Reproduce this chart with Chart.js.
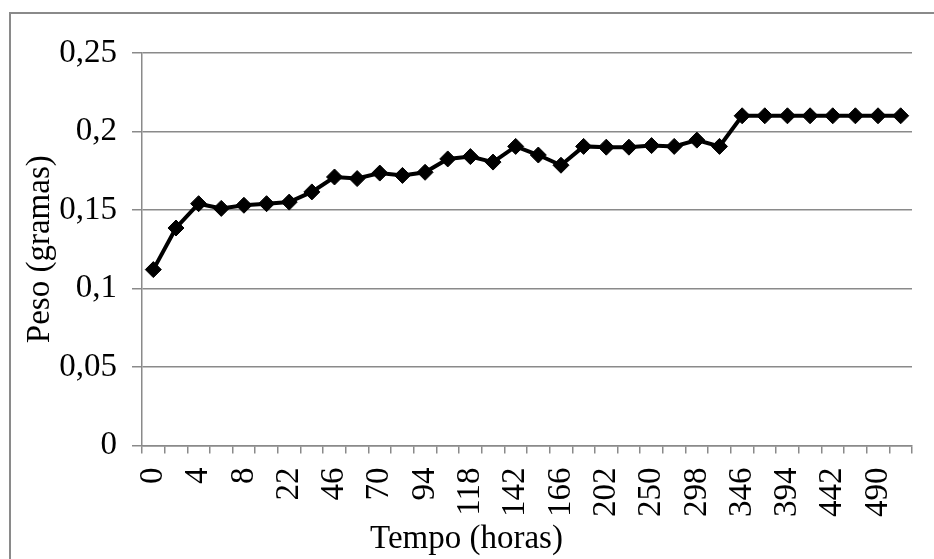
<!DOCTYPE html>
<html>
<head>
<meta charset="utf-8">
<script src="https://cdn.jsdelivr.net/npm/chart.js@4/dist/chart.umd.min.js"></script>
<style>
    html, body { margin: 0; padding: 0; background: #fff; overflow: hidden; }
    #frame { position: absolute; left: 9px; top: 12px; width: 1000px; height: 600px;
             border-left: 2px solid #8a8a8a; border-top: 2px solid #8a8a8a; }
    #peso { position: absolute; left: 0; top: 0; }
</style>
</head>
<body>
<div id="frame"></div>
<canvas id="peso" width="934" height="559"></canvas>
<script>
// tempo em horas (rotulos do eixo x, so metade aparece)
var horas = ['0', '2', '4', '6', '8', '10', '22', '34', '46', '58', '70', '82', '94', '106',
    '118', '130', '142', '154', '166', '178', '202', '226', '250', '274', '298', '322',
    '346', '370', '394', '418', '442', '466', '490', '514'];

// peso em gramas
var peso = [0.112, 0.1385, 0.154, 0.151, 0.153, 0.154, 0.155, 0.1615, 0.171, 0.170,
    0.1735, 0.172, 0.174, 0.1825, 0.184, 0.1805, 0.1905, 0.185, 0.1785, 0.1905, 0.190,
    0.190, 0.191, 0.1905, 0.1945, 0.1905, 0.21, 0.21, 0.21, 0.21, 0.21, 0.21, 0.21, 0.21];

var yTicks = [0, 0.05, 0.1, 0.15, 0.2, 0.25];

var cinza = '#8a8a8a';
var fonte = {family: 'Liberation Serif', size: 33, weight: 'normal'};

function virgula(v) {
    return String(+v.toFixed(2)).replace('.', ',');
}

window.onload = function () {
    var ctx = document.getElementById('peso').getContext('2d');
    var grafico = new Chart(ctx, {
        type: 'line',
        data: {
            labels: horas,
            datasets: [{
                data: peso,
                borderColor: '#000',
                backgroundColor: '#000',
                borderWidth: 4,
                pointStyle: 'rectRot',
                pointRadius: 8,
                pointBorderWidth: 1,
                pointBackgroundColor: '#000',
                tension: 0
            }]
        },
        options: {
            responsive: false,
            devicePixelRatio: 1,
            animation: false,
            layout: {padding: {left: 21, top: 53, right: 22, bottom: 0}},
            plugins: {
                legend: {display: false},
                tooltip: {enabled: false},
                title: {
                    display: true,
                    position: 'bottom',
                    text: 'Tempo (horas)',
                    color: '#000',
                    font: fonte,
                    padding: {top: 0, bottom: 0}
                }
            },
            scales: {
                x: {
                    type: 'category',
                    offset: true,
                    grid: {
                        offset: true,
                        drawOnChartArea: false,
                        drawTicks: true,
                        tickLength: 8,
                        color: cinza,
                        lineWidth: 1.5
                    },
                    border: {color: cinza, width: 1.5},
                    ticks: {
                        autoSkip: false,
                        maxRotation: 90,
                        minRotation: 90,
                        padding: 14,
                        color: '#000',
                        font: fonte,
                        callback: function (val, i) {
                            return i % 2 === 0 ? this.getLabelForValue(val) : '';
                        }
                    },
                    afterFit: function (s) {
                        s.height = 74;
                        s.paddingLeft = 0;
                        s.paddingRight = 0;
                    }
                },
                y: {
                    min: 0,
                    max: 0.25,
                    afterBuildTicks: function (s) {
                        s.ticks = yTicks.map(function (v) { return {value: v}; });
                    },
                    grid: {
                        color: cinza,
                        lineWidth: 1.5,
                        drawTicks: true,
                        tickLength: 10
                    },
                    border: {color: cinza, width: 1.5},
                    ticks: {
                        padding: 15,
                        color: '#000',
                        font: fonte,
                        callback: function (v) { return virgula(v); }
                    },
                    title: {
                        display: true,
                        text: 'Peso (gramas)',
                        color: '#000',
                        font: fonte,
                        padding: {top: 0, bottom: 4}
                    },
                    afterFit: function (s) { s.width = 121; }
                }
            }
        }
    });
    window.grafico = grafico;
};
</script>
</body>
</html>
